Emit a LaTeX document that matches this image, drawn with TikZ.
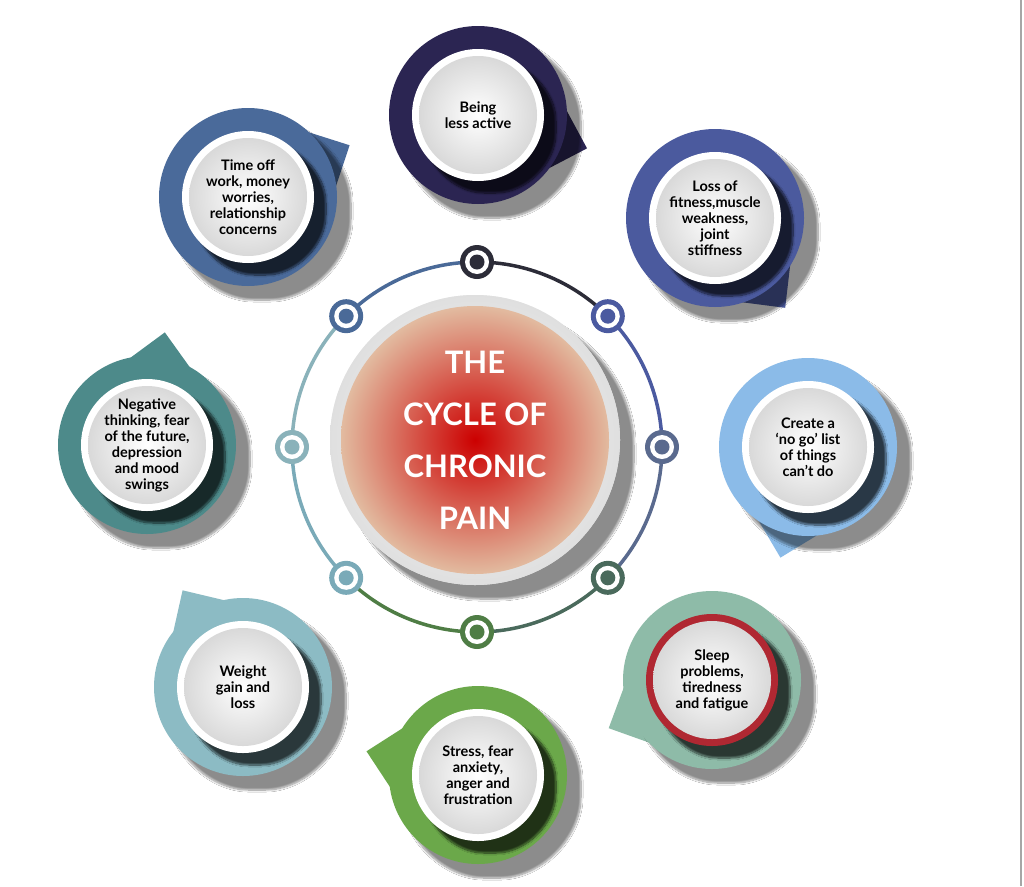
\documentclass[tikz,border=0pt]{standalone}
\usepackage{fontspec}
\setmainfont{Lato}
\usetikzlibrary{shadows.blur}
\definecolor{cA}{HTML}{2B2552}
\definecolor{cB}{HTML}{4B5A9E}
\definecolor{cC}{HTML}{8BBBE8}
\definecolor{cD}{HTML}{8EBBA8}
\definecolor{cE}{HTML}{6BA84A}
\definecolor{cF}{HTML}{8CBBC4}
\definecolor{cG}{HTML}{4D8A8A}
\definecolor{cH}{HTML}{4A6A9A}
\definecolor{dA}{HTML}{2C2C38}
\definecolor{dB}{HTML}{4B5AA0}
\definecolor{dC}{HTML}{5A6A8E}
\definecolor{dD}{HTML}{4A6A5C}
\definecolor{dE}{HTML}{4F7D45}
\definecolor{dF}{HTML}{7AAAB8}
\definecolor{dG}{HTML}{8AB2BA}
\definecolor{dH}{HTML}{4A6A98}
\definecolor{redrim}{HTML}{B02832}
\definecolor{tan}{HTML}{E2BBA0}
\tikzset{
 lbl/.style={font=\bfseries\fontsize{14.5}{16}\selectfont, align=center, text=black},
 bshadow/.style={blur shadow={shadow xshift=14pt, shadow yshift=-14pt, shadow blur steps=10, shadow blur extra rounding=8pt, shadow opacity=45}},
}
\begin{document}
\begin{tikzpicture}[x=1pt,y=-1pt]
\useasboundingbox (0,0) rectangle (1024,886);
\fill[white] (0,0) rectangle (1024,886);
\draw[gray!70, line width=1.5pt] (1021,0) -- (1021,886);
% ring arcs
\coordinate (ctr) at (477,447);
\foreach \a/\b/\c in {270/315/dA,315/360/dB,0/45/dC,45/90/dD,90/135/dE,135/180/dF,180/225/dG,225/270/dH}{
  \draw[\c, line width=3.5pt] ($(ctr)+(\a:185)$) arc[start angle=\a, end angle=\b, radius=185];
}
% center circle
\fill[gray!15, bshadow] (475,440) circle[radius=145];
\shade[inner color=white, outer color=gray!25] (475,440) circle[radius=145];
\shade[inner color=red!80!black, outer color=tan] (475,440) circle[radius=134];
\node[font=\bfseries\fontsize{31}{52}\selectfont, text=white, align=center] (title) at (475,440) {THE\\CYCLE OF\\CHRONIC\\PAIN};
% ring dots
\foreach \a/\c [count=\i] in {270/dA,315/dB,0/dC,45/dD,90/dE,135/dF,180/dG,225/dH}{
  \fill[\c] ($(ctr)+(\a:185)$) circle[radius=17];
  \fill[white] ($(ctr)+(\a:185)$) circle[radius=12];
  \fill[\c] ($(ctr)+(\a:185)$) coordinate (dot\i) circle[radius=7.5];
}
% bubbles
\foreach \x/\y/\col/\ang/\rim/\txt [count=\i] in {
 478/115/cA/17/white/{Being\\less active},
 715/218/cB/52/white/{Loss of\\fitness,muscle\\weakness,\\joint\\stiffness},
 808/447/cC/104/white/{Create a\\‘no go’ list\\of things\\can’t do},
 712/680/cD/155/redrim/{Sleep\\problems,\\tiredness\\and fatigue},
 478/775/cE/192/white/{Stress, fear\\anxiety,\\anger and\\frustration},
 243/687/cF/238/white/{Weight\\gain and\\loss},
 147/445/cG/279/white/{Negative\\thinking, fear\\of the future,\\depression\\and mood\\swings},
 248/197/cH/333/white/{Time off\\work, money\\worries,\\relationship\\concerns}}{
  \coordinate (b\i) at (\x,\y);
  \fill[\col] ($(b\i)+(\ang-24:86)$) -- ($(b\i)+(\ang:114)$) -- ($(b\i)+(\ang+24:86)$) -- cycle;
  \fill[\col, bshadow] (b\i) circle[radius=89];
  \fill[\rim, blur shadow={shadow xshift=12pt, shadow yshift=-12pt, shadow opacity=70, shadow blur steps=12, shadow blur extra rounding=6pt}] (b\i) circle[radius=66];
  \shade[inner color=white, outer color=gray!30] (b\i) circle[radius=59];
  \node[lbl] (t\i) at (b\i) {\txt};
}
\end{tikzpicture}
\end{document}
